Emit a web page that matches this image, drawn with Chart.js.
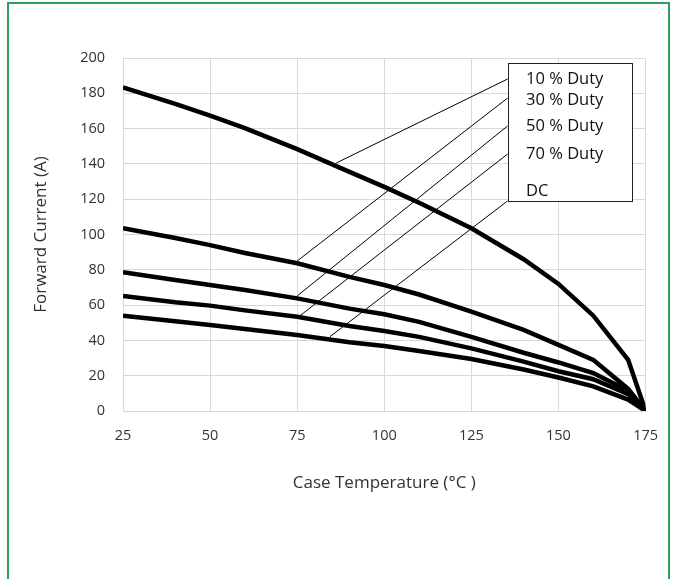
<!DOCTYPE html>
<html>
<head>
<meta charset="utf-8">
<script src="https://cdn.jsdelivr.net/npm/chart.js@4"></script>
<style>
  html, body { margin:0; padding:0; background:#fff; }
  body { width:674px; height:579px; overflow:hidden; position:relative; }
  #frame { position:absolute; left:7px; top:2px; width:663px; height:600px; border:2px solid #2e9e5e; box-sizing:border-box; }
  #wrap { position:absolute; left:0; top:0; width:674px; height:579px; }
</style>
</head>
<body>
<div id="frame"></div>
<div id="wrap"><canvas id="c"></canvas></div>
<script>
// ---- data ----
const temps  = [25, 40, 50, 60, 75, 90, 100, 110, 125, 140, 150, 160, 170, 175];
const duty10 = [183.4, 174, 167.3, 160.3, 148.4, 135.5, 127, 118, 103.5, 86, 72, 54, 29, 0];
const duty30 = [103.5, 98, 94, 89.5, 83.7, 76, 71.4, 66, 56.3, 46, 37.5, 29, 12.5, 0];
const duty50 = [78.6, 74.2, 71.4, 68.5, 63.8, 58, 54.8, 50.5, 42, 33, 27.5, 21.5, 11.5, 0];
const duty70 = [65.2, 61.6, 59.7, 57, 53.4, 48.2, 45.3, 42, 35.5, 28, 22.5, 18, 9.5, 0];
const dcVals = [54, 50.8, 48.7, 46.5, 43, 39, 36.8, 34, 29.5, 23.5, 19, 14, 6.5, 0];

const xTicks = [25, 50, 75, 100, 125, 150, 175];
const yTicks = [0, 20, 40, 60, 80, 100, 120, 140, 160, 180, 200];

const legendLabels = ["10 % Duty", "30 % Duty", "50 % Duty", "70 % Duty", "DC"];
const legendTextY  = [188.1, 176.3, 161.1, 145.6, 124.6];
const legendTextX  = 140.7;
const legendBoxX   = [135.4, 171];
const legendBoxY   = [119, 197];

// leader lines: [fromX, fromY, toX, toY]
const leaderFromX = [86.2, 75, 75, 75.7, 84.4];
const leaderFromY = [140.5, 85, 65.2, 53.8, 42.1];
const leaderToX   = [135.4, 135.4, 135.4, 135.4, 135.4];
const leaderToY   = [188.1, 177.3, 161.5, 145.6, 119];

const series = [duty10, duty30, duty50, duty70, dcVals];

const datasets = [];
series.forEach((s, k) => {
  datasets.push({
    label: legendLabels[k],
    data: temps.map((t, i) => ({x: t, y: s[i]})),
    borderColor: '#000', borderWidth: 4.5, pointRadius: 0, tension: 0,
    borderJoinStyle: 'miter', fill: false, order: 1
  });
});
leaderFromX.forEach((fx, k) => {
  datasets.push({
    label: 'leader' + k,
    data: [{x: fx, y: leaderFromY[k]}, {x: leaderToX[k], y: leaderToY[k]}],
    borderColor: '#000', borderWidth: 1, pointRadius: 0, fill: false, order: 2
  });
});

const FONT = "'Open Sans', 'Noto Sans', sans-serif";
const TXT = '#333333';

const boxPlugin = {
  id: 'legendBox',
  afterDatasetsDraw(chart) {
    const {ctx, scales: {x, y}} = chart;
    const l = Math.round(x.getPixelForValue(legendBoxX[0])) + 0.5;
    const r = Math.round(x.getPixelForValue(legendBoxX[1])) + 0.5;
    const t = Math.round(y.getPixelForValue(legendBoxY[1])) + 0.5;
    const b = Math.round(y.getPixelForValue(legendBoxY[0])) + 0.5;
    ctx.save();
    ctx.fillStyle = '#fff';
    ctx.fillRect(l, t, r - l, b - t);
    ctx.strokeStyle = '#222';
    ctx.lineWidth = 1;
    ctx.strokeRect(l, t, r - l, b - t);
    ctx.fillStyle = '#111';
    ctx.font = "16.5px " + FONT;
    ctx.textBaseline = 'middle';
    ctx.textAlign = 'left';
    legendLabels.forEach((lab, i) => {
      ctx.fillText(lab, x.getPixelForValue(legendTextX), y.getPixelForValue(legendTextY[i]));
    });
    ctx.restore();
  }
};

new Chart(document.getElementById('c'), {
  type: 'line',
  data: { datasets },
  options: {
    responsive: true, maintainAspectRatio: false, animation: false,
    layout: { padding: { left: 31, top: 58, right: 24, bottom: 86 } },
    plugins: { legend: { display: false }, tooltip: { enabled: false } },
    scales: {
      x: {
        type: 'linear', min: 25, max: 175,
        afterBuildTicks: (s) => { s.ticks = xTicks.map(v => ({value: v})); },
        afterFit: (s) => { s.height = 82; },
        grid: { color: '#d9d9d9', lineWidth: 1, drawTicks: false },
        border: { color: '#d9d9d9' },
        ticks: { padding: 16, color: TXT, font: { family: FONT, size: 14.5 }, maxRotation: 0 },
        title: { display: true, text: 'Case Temperature (°C )', color: TXT, font: { family: FONT, size: 17 }, padding: 0 }
      },
      y: {
        type: 'linear', min: 0, max: 200,
        afterBuildTicks: (s) => { s.ticks = yTicks.map(v => ({value: v})); },
        afterFit: (s) => { s.width = 92; },
        grid: { color: '#d9d9d9', lineWidth: 1, drawTicks: false },
        border: { color: '#d9d9d9' },
        ticks: { padding: 18, color: TXT, font: { family: FONT, size: 14.5 } },
        title: { display: true, text: 'Forward Current (A)', color: TXT, font: { family: FONT, size: 17 }, padding: 0 }
      }
    }
  },
  plugins: [boxPlugin]
});
</script>
</body>
</html>
